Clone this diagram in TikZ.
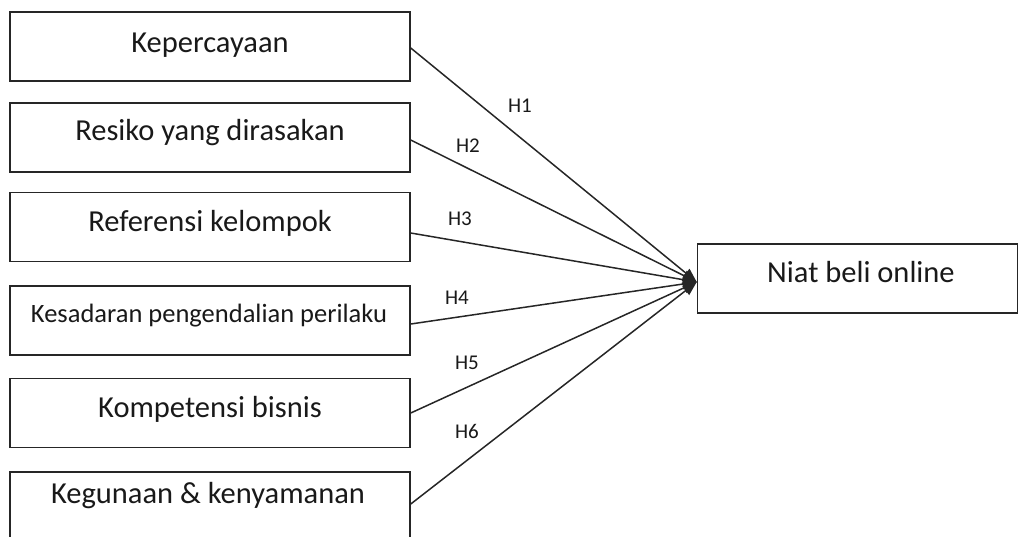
\documentclass[tikz,border=0pt]{standalone}
\usepackage{fontspec}
\setmainfont{Carlito}
\usetikzlibrary{arrows.meta}
\begin{document}
\begin{tikzpicture}[x=1pt,y=-1pt,
  varbox/.style={draw=black!85,line width=1.5pt,minimum width=400pt,minimum height=69pt,inner sep=0pt},
  boxtext/.style={anchor=base,inner sep=0pt,font=\fontsize{30.5}{36}\selectfont,text=black!90},
  smalltext/.style={anchor=base,inner sep=0pt,font=\fontsize{26.5}{32}\selectfont,text=black!90},
  hlabel/.style={anchor=base,inner sep=0pt,font=\fontsize{21}{25}\selectfont,text=black!90},
  link/.style={draw=black!85,line width=1.5pt,-{Triangle[length=14pt,width=11pt]}}]
\useasboundingbox (0,0) rectangle (1019,536);
\node[varbox] (b1) at (210,46.5) {};
\node[varbox] (b2) at (210,137.5) {};
\node[varbox] (b3) at (210,227) {};
\node[varbox] (b4) at (210,320.5) {};
\node[varbox] (b5) at (210,413) {};
\node[varbox] (b6) at (210,506.5) {};
\node[draw=black!85,line width=1.5pt,minimum width=320pt,minimum height=69pt,inner sep=0pt] (niat) at (857.5,278.5) {};
\node[boxtext] (t1) at (210,52) {Kepercayaan};
\node[boxtext] (t2) at (210,140) {Resiko yang dirasakan};
\node[boxtext] (t3) at (210,231) {Referensi kelompok};
\node[smalltext] (t4) at (209,322) {Kesadaran pengendalian perilaku};
\node[boxtext] (t5) at (210,417) {Kompetensi bisnis};
\node[boxtext] (t6) at (208,503) {Kegunaan \& kenyamanan};
\node[boxtext] (tn) at (861,282) {Niat beli online};
\coordinate (tip) at ([yshift=-3.5pt]niat.west);
\draw[link] ([yshift=-1.5pt]b1.east) -- (tip);
\draw[link] ([yshift=-2.5pt]b2.east) -- (tip);
\draw[link] ([yshift=-6pt]b3.east) -- (tip);
\draw[link] ([yshift=-3.5pt]b4.east) -- (tip);
\draw[link] (b5.east) -- (tip);
\draw[link] ([yshift=2.5pt]b6.east) -- (tip);
\node[hlabel] (h1) at (520,112) {H1};
\node[hlabel] (h2) at (468,152) {H2};
\node[hlabel] (h3) at (460,225) {H3};
\node[hlabel] (h4) at (457,304) {H4};
\node[hlabel] (h5) at (467,369) {H5};
\node[hlabel] (h6) at (467,438) {H6};
\end{tikzpicture}
\end{document}
